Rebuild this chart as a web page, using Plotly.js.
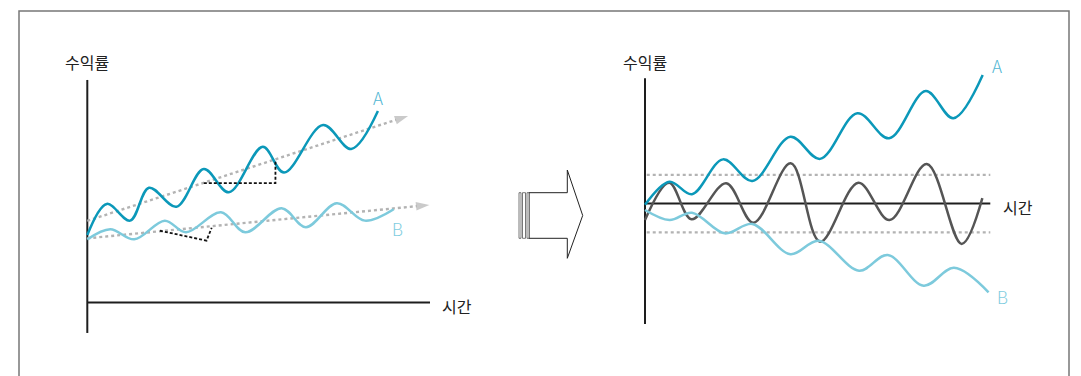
<!DOCTYPE html>
<html>
<head>
<meta charset="utf-8">
<script src="https://cdn.plot.ly/plotly-3.0.1.min.js"></script>
<style>
  html, body { margin: 0; padding: 0; background: #fff; }
  #chart { width: 1081px; height: 376px; }
</style>
</head>
<body>
<div id="chart"></div>
<script>
// ---- Left panel: two assets drifting upward ----
const leftTimeA = [0, 5.7, 12.5, 18.0, 26.0, 34.0, 41.3, 51.2, 57.4, 68.8, 77.0, 84.8];
const leftRetA  = [26.7, 39.0, 32.4, 45.4, 37.9, 52.8, 43.6, 61.6, 51.4, 70.2, 60.7, 75.7];
const leftTimeB = [0, 6.7, 13.7, 22.6, 28.8, 39.0, 46.1, 56.7, 63.8, 72.8, 81.0, 89.4];
const leftRetB  = [25.0, 29.0, 25.0, 32.4, 27.8, 35.7, 27.8, 37.3, 29.8, 39.3, 32.4, 36.9];
// trend lines (start, arrow tip)
const trendTimeA = [0, 93.6];
const trendRetA  = [32.3, 73.8];
const trendTimeB = [0, 99.8];
const trendRetB  = [25.4, 38.6];
// rise-over-run guides on each trend
const slopeTimeA = [34.0, 54.9, 54.9];
const slopeRetA  = [47.2, 47.2, 56.1];
const slopeTimeB = [21.2, 34.8, 36.3];
const slopeRetB  = [28.4, 24.5, 29.6];

// ---- Right panel: A rising, B falling, long-short spread oscillating ----
const rightTimeA = [0, 7.1, 13.6, 22.6, 31.1, 42.1, 50.7, 61.5, 70.7, 81.3, 89.3, 97.8];
const rightRetA  = [-0.5, 8.9, 3.8, 18.0, 9.2, 27.2, 18.2, 36.8, 26.6, 45.8, 34.7, 52.3];
const rightTimeB = [0, 7.1, 13.6, 23.1, 31.1, 42.1, 50.3, 62.0, 70.3, 80.7, 89.5, 99.5];
const rightRetB  = [-2.6, -6.7, -3.7, -12.1, -8.3, -20.6, -15.1, -27.3, -20.9, -33.4, -26.1, -36.1];
const spreadTime = [0, 7.0, 13.5, 23.5, 31.4, 42.2, 50.7, 61.8, 70.8, 81.6, 91.7, 97.7];
const spreadRet  = [-6.7, 8.5, -6.4, 8.3, -7.8, 16.4, -15.5, 8.5, -6.7, 16.1, -16.4, 2.2];
const bandTime   = [0.5, 100];
const bandUpper  = 11.7;
const bandLower  = -11.7;

// axis extents in data units
const leftAxis  = { xEnd: 100, yTop: 88, yBottom: -12 };
const rightAxis = { xEnd: 100, yTop: 51, yBottom: -49 };

const yLabel = '수익률';
const xLabel = '시간';

// ---- styling ----
const W = 1081, H = 376;
const colA = '#0b98b9', colB = '#7dcadc', colSpread = '#555555';
const colLabelA = '#4fb6d3', colLabelB = '#7fcde0';
const colTrend = '#b3b3b3', colAxis = '#1e1e1e', colText = '#222222';
const krFont = '"Noto Sans CJK KR", "Noto Sans", sans-serif';

// map a panel's origin / px-per-unit onto axis domain + range
function panelAxes(origin, scale, box) {
  return {
    x: { domain: [box.x0 / W, box.x1 / W],
         range: [(box.x0 - origin.x) / scale.x, (box.x1 - origin.x) / scale.x] },
    y: { domain: [1 - box.y1 / H, 1 - box.y0 / H],
         range: [(origin.y - box.y1) / scale.y, (origin.y - box.y0) / scale.y] }
  };
}
const L = panelAxes({ x: 87.3, y: 302.6 }, { x: 3.427, y: 2.53 }, { x0: 60, x1: 470, y0: 30, y1: 360 });
const R = panelAxes({ x: 645, y: 203.6 }, { x: 3.453, y: 2.457 }, { x0: 610, x1: 1040, y0: 30, y1: 360 });

function hiddenAxis(a, anchor) {
  return Object.assign({ visible: false, fixedrange: true, anchor: anchor, showgrid: false, zeroline: false }, a);
}

function curve(x, y, color, xa, ya, width) {
  return { x: x, y: y, xaxis: xa, yaxis: ya, mode: 'lines', hoverinfo: 'skip',
           line: { color: color, width: width || 2.5, shape: 'spline', smoothing: 1 } };
}
function dotted(x, y, color, xa, ya, dash, width) {
  return { x: x, y: y, xaxis: xa, yaxis: ya, mode: 'lines', hoverinfo: 'skip',
           line: { color: color, width: width || 2.4, dash: dash } };
}
function trendArrow(x, y, xa, ya) {
  const sizes = x.map((_, i) => (i === x.length - 1 ? 14 : 0));
  return { x: x, y: y, xaxis: xa, yaxis: ya, mode: 'lines+markers', hoverinfo: 'skip', cliponaxis: false,
           line: { color: colTrend, width: 2.4, dash: '3px,3px' },
           marker: { size: sizes, symbol: 'arrow', angleref: 'previous', color: colTrend, line: { width: 0 } } };
}

const traces = [
  // left panel
  trendArrow(trendTimeA, trendRetA, 'x', 'y'),
  trendArrow(trendTimeB, trendRetB, 'x', 'y'),
  curve(leftTimeB, leftRetB, colB, 'x', 'y'),
  curve(leftTimeA, leftRetA, colA, 'x', 'y'),
  dotted(slopeTimeA, slopeRetA, '#111', 'x', 'y', '3px,2px', 1.8),
  dotted(slopeTimeB, slopeRetB, '#111', 'x', 'y', '3px,2px', 1.8),
  // right panel
  dotted(bandTime, bandTime.map(() => bandUpper), colTrend, 'x2', 'y2', '3px,3px'),
  dotted(bandTime, bandTime.map(() => bandLower), colTrend, 'x2', 'y2', '3px,3px'),
  curve(spreadTime, spreadRet, colSpread, 'x2', 'y2'),
  curve(rightTimeB, rightRetB, colB, 'x2', 'y2'),
  curve(rightTimeA, rightRetA, colA, 'x2', 'y2')
];

// axis lines for both panels
function axisLines(ax, xa, ya) {
  const base = { type: 'line', xref: xa, yref: ya, line: { color: colAxis, width: 2 }, layer: 'below' };
  return [
    Object.assign({}, base, { x0: 0, x1: 0, y0: ax.yBottom, y1: ax.yTop }),
    Object.assign({}, base, { x0: 0, x1: ax.xEnd, y0: 0, y1: 0 })
  ];
}

// helpers for page-level decorations in pixel terms
const px = v => v / W;
const py = v => 1 - v / H;
function pagePath(points) {
  return 'M' + points.map(p => px(p[0]) + ',' + py(p[1])).join('L') + 'Z';
}

const blockArrow = [[529, 192.7], [567.3, 192.7], [567.3, 170], [582.7, 215.5],
                    [567.3, 258.3], [567.3, 238.3], [529, 238.3]];
const arrowBars = [[519, 521], [522.5, 525.5], [527, 529]];

const shapes = [].concat(
  axisLines(leftAxis, 'x', 'y'),
  axisLines(rightAxis, 'x2', 'y2'),
  [{ type: 'rect', xref: 'paper', yref: 'paper', x0: px(19), x1: px(1069), y0: py(11), y1: py(392),
     line: { color: '#777', width: 1.5 }, fillcolor: 'rgba(0,0,0,0)', layer: 'below' },
   { type: 'path', xref: 'paper', yref: 'paper', path: pagePath(blockArrow),
     line: { color: '#222', width: 1 }, fillcolor: '#fff' }],
  arrowBars.map(b => ({ type: 'rect', xref: 'paper', yref: 'paper', x0: px(b[0]), x1: px(b[1]),
     y0: py(238.3), y1: py(192.7), line: { color: '#555', width: 0.8 }, fillcolor: '#fff' }))
);

function label(text, x, y, xa, ya, color, size, opts) {
  return Object.assign({ text: text, x: x, y: y, xref: xa, yref: ya, showarrow: false,
    font: { family: krFont, size: size, color: color } }, opts || {});
}
const last = arr => arr[arr.length - 1];
const letterFont = c => ({ family: krFont, size: 17, color: c, weight: 300 });

const annotations = [
  label(yLabel, 0, leftAxis.yTop, 'x', 'y', colText, 16, { yshift: 18 }),
  label(xLabel, leftAxis.xEnd, 0, 'x', 'y', colText, 16, { xanchor: 'left', xshift: 10, yshift: -3 }),
  label('A', last(leftTimeA), last(leftRetA), 'x', 'y', colLabelA, 17, { yshift: 14, font: letterFont(colLabelA) }),
  label('B', last(leftTimeB), last(leftRetB), 'x', 'y', colLabelB, 17, { xshift: 4, yshift: -19, font: letterFont(colLabelB) }),
  label(yLabel, 0, rightAxis.yTop, 'x2', 'y2', colText, 16, { yshift: 16 }),
  label(xLabel, rightAxis.xEnd, 0, 'x2', 'y2', colText, 16, { xanchor: 'left', xshift: 11, yshift: -3 }),
  label('A', last(rightTimeA), last(rightRetA), 'x2', 'y2', colLabelA, 17, { xshift: 14, yshift: 10, font: letterFont(colLabelA) }),
  label('B', last(rightTimeB), last(rightRetB), 'x2', 'y2', colLabelB, 17, { xshift: 14, yshift: -4, font: letterFont(colLabelB) })
];

const layout = {
  width: W, height: H,
  margin: { l: 0, r: 0, t: 0, b: 0 },
  paper_bgcolor: '#fff', plot_bgcolor: 'rgba(0,0,0,0)',
  showlegend: false,
  xaxis: hiddenAxis(L.x, 'y'),
  yaxis: hiddenAxis(L.y, 'x'),
  xaxis2: hiddenAxis(R.x, 'y2'),
  yaxis2: hiddenAxis(R.y, 'x2'),
  shapes: shapes,
  annotations: annotations
};

Plotly.newPlot('chart', traces, layout, { staticPlot: true, displayModeBar: false });
</script>
</body>
</html>
